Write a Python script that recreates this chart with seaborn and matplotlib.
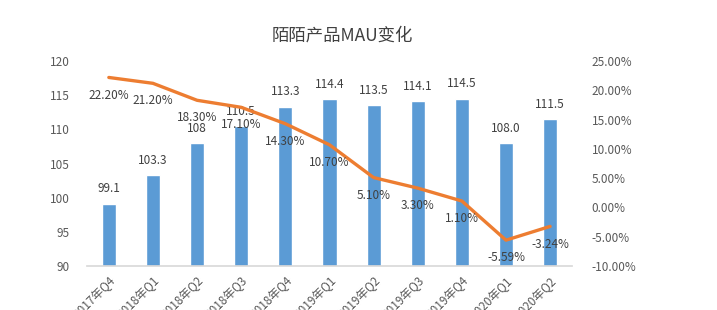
import numpy as np
import pandas as pd
import matplotlib
matplotlib.use("Agg")
import matplotlib.pyplot as plt
import seaborn as sns

categories = ["2017年Q4", "2018年Q1", "2018年Q2", "2018年Q3", "2018年Q4", "2019年Q1",
              "2019年Q2", "2019年Q3", "2019年Q4", "2020年Q1", "2020年Q2"]
mau = [99.1, 103.3, 108, 110.5, 113.3, 114.4, 113.5, 114.1, 114.5, 108.0, 111.5]
mau_labels = ["99.1", "103.3", "108", "110.5", "113.3", "114.4", "113.5", "114.1", "114.5", "108.0", "111.5"]
growth = [22.20, 21.20, 18.30, 17.10, 14.30, 10.70, 5.10, 3.30, 1.10, -5.59, -3.24]
left_ticks = [90, 95, 100, 105, 110, 115, 120]
right_ticks = [-10, -5, 0, 5, 10, 15, 20, 25]
title = "陌陌产品MAU变化"

sns.set_theme(style="white")
plt.rcParams['font.family'] = ['Noto Sans CJK SC', 'DejaVu Sans']

bar_color = "#5B9BD5"
line_color = "#ED7D31"
text_color = "#595959"

df = pd.DataFrame({"cat": categories, "mau": mau, "growth": growth,
                   "pos": np.arange(len(categories))})

fig = plt.figure(figsize=(7.17, 3.10), dpi=100)
ax = fig.add_axes([0.121, 0.142, 0.677, 0.661])
sns.barplot(data=df, x="cat", y="mau", color=bar_color, width=0.32, ax=ax, saturation=1)
ax.set_ylim(90, 120)
ax.set_yticks(left_ticks)
ax.set_yticklabels([str(t) for t in left_ticks], color=text_color, fontsize=8.5)
ax.set_xlim(-0.5, len(categories) - 0.5)
ax.set_xlabel("")
ax.set_ylabel("")
ax.set_xticks(range(len(categories)))
ax.set_xticklabels(categories, rotation=45, ha="right", rotation_mode="anchor",
                   color=text_color, fontsize=8.5)
ax.tick_params(axis="y", length=0, pad=12)
ax.tick_params(axis="x", length=0, pad=6)
for s in ["top", "left", "right"]:
    ax.spines[s].set_visible(False)
ax.spines["bottom"].set_color("#D9D9D9")
ax.grid(False)
for i, (v, lab) in enumerate(zip(mau, mau_labels)):
    ax.annotate(lab, (i, v), xytext=(0, 6), textcoords="offset points",
                ha="center", va="bottom", color="#404040", fontsize=8.5)

ax2 = ax.twinx()
sns.lineplot(data=df, x="pos", y="growth", color=line_color, linewidth=2.4, ax=ax2)
ax2.set_ylim(-10, 25)
ax2.set_yticks(right_ticks)
ax2.set_yticklabels([f"{t:.2f}%" for t in right_ticks], color=text_color, fontsize=8.5)
ax2.tick_params(axis="y", length=0, pad=14)
ax2.set_ylabel("")
ax2.set_xlabel("")
ax2.set_xlim(-0.5, len(categories) - 0.5)
for s in ["top", "left", "right", "bottom"]:
    ax2.spines[s].set_visible(False)
ax2.grid(False)
for i, g in enumerate(growth):
    ax2.annotate(f"{g:.2f}%", (i, g), xytext=(0, -8), textcoords="offset points",
                 ha="center", va="top", color="#404040", fontsize=8.5)

fig.text(0.478, 0.885, title, ha="center", va="center", fontsize=12.5,
         color="#404040", fontweight="medium")

fig.savefig("out.png", dpi=100)
